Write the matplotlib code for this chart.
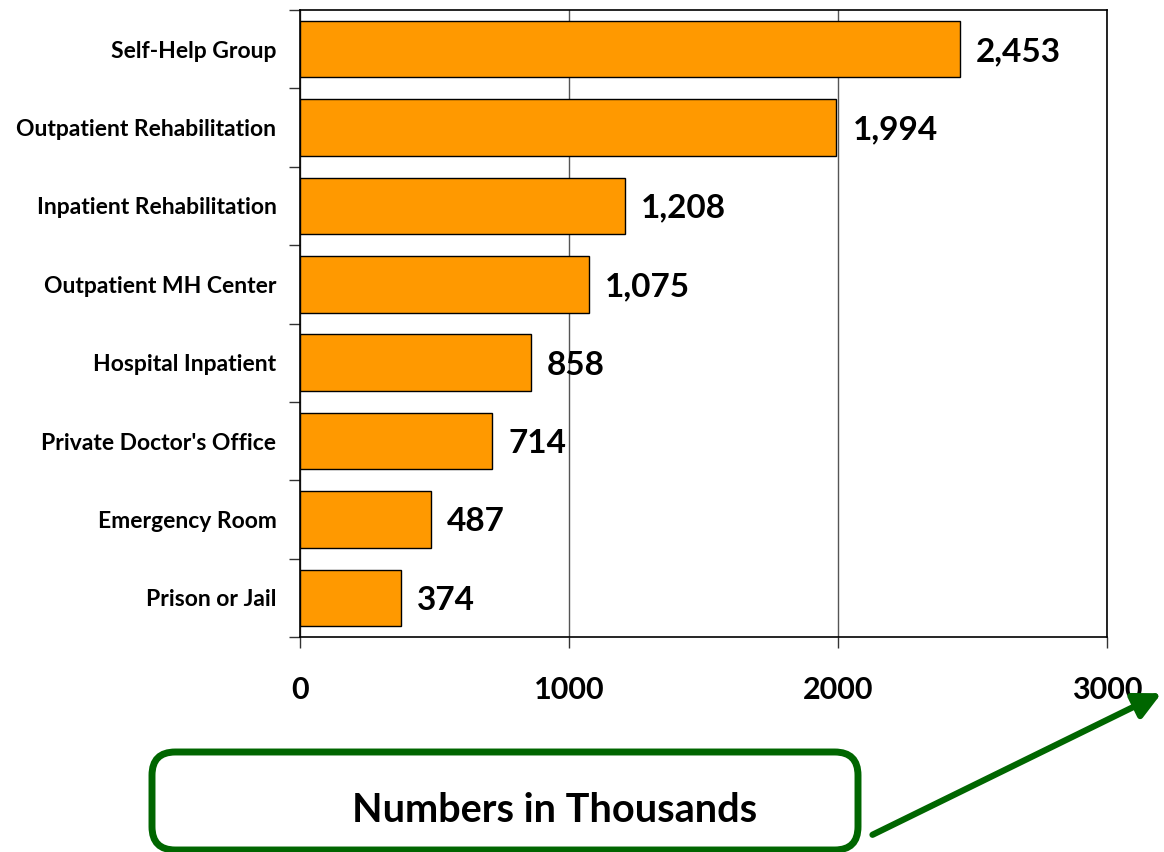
import matplotlib
matplotlib.use("Agg")
import matplotlib.pyplot as plt
from matplotlib.patches import FancyBboxPatch, FancyArrowPatch

plt.rcParams['font.family'] = ['Lato', 'DejaVu Sans']

# data (numbers in thousands)
categories = ['Self-Help Group', 'Outpatient Rehabilitation', 'Inpatient Rehabilitation',
              'Outpatient MH Center', 'Hospital Inpatient', "Private Doctor's Office",
              'Emergency Room', 'Prison or Jail']
values = [2453, 1994, 1208, 1075, 858, 714, 487, 374]
xticks = [0, 1000, 2000, 3000]

W, H = 1164, 852
fig = plt.figure(figsize=(W / 100, H / 100), dpi=100)
ax = fig.add_axes([300 / W, 1 - 637 / H, 807 / W, 627 / H])

ypos = list(range(len(categories)))[::-1]
ax.barh(ypos, values, height=0.72, color='#FF9900', edgecolor='black', linewidth=1, zorder=3)

for y, v in zip(ypos, values):
    ax.text(v + 60, y - 0.03, f'{v:,}', va='center', ha='left',
            fontsize=24, fontweight='bold', zorder=4)

ax.set_xlim(0, 3000)
ax.set_ylim(-0.5, len(categories) - 0.5)
ax.set_xticks(xticks)
ax.set_xticklabels([str(t) for t in xticks], fontsize=22, fontweight='bold')
ax.xaxis.grid(True, color='#555555', linewidth=1, zorder=0)

# category labels centred on bars, ticks on the boundaries
ax.set_yticks([y - 0.5 for y in range(len(categories) + 1)])
ax.set_yticklabels([])
ax.set_yticks(ypos, minor=True)
ax.set_yticklabels(categories, minor=True, fontsize=16.5, fontweight='bold')
ax.tick_params(axis='y', which='minor', length=0, pad=17)
ax.tick_params(axis='y', which='major', length=8, width=1, color='#333333')
ax.tick_params(axis='x', length=8, width=1, pad=20, color='#333333')
for s in ax.spines.values():
    s.set_linewidth(1.2)

# "Numbers in Thousands" box and arrow
box = FancyBboxPatch((152 / W, 1 - 850 / H), 706 / W, 98 / H,
                     boxstyle='round,pad=0,rounding_size=0.02',
                     transform=fig.transFigure, facecolor='white',
                     edgecolor='#006600', linewidth=5, mutation_aspect=W / H)
fig.patches.append(box)
fig.text(555 / W, 1 - 810 / H, 'Numbers in Thousands', ha='center', va='center',
         fontsize=28.5, fontweight='bold')
arrow = FancyArrowPatch((870 / W, 1 - 836 / H), (1164 / W, 1 - 692 / H),
                        transform=fig.transFigure, arrowstyle='-|>,head_length=8,head_width=4',
                        mutation_scale=2, color='#006600', linewidth=4.5)
fig.patches.append(arrow)

fig.savefig('out.png', dpi=100)
